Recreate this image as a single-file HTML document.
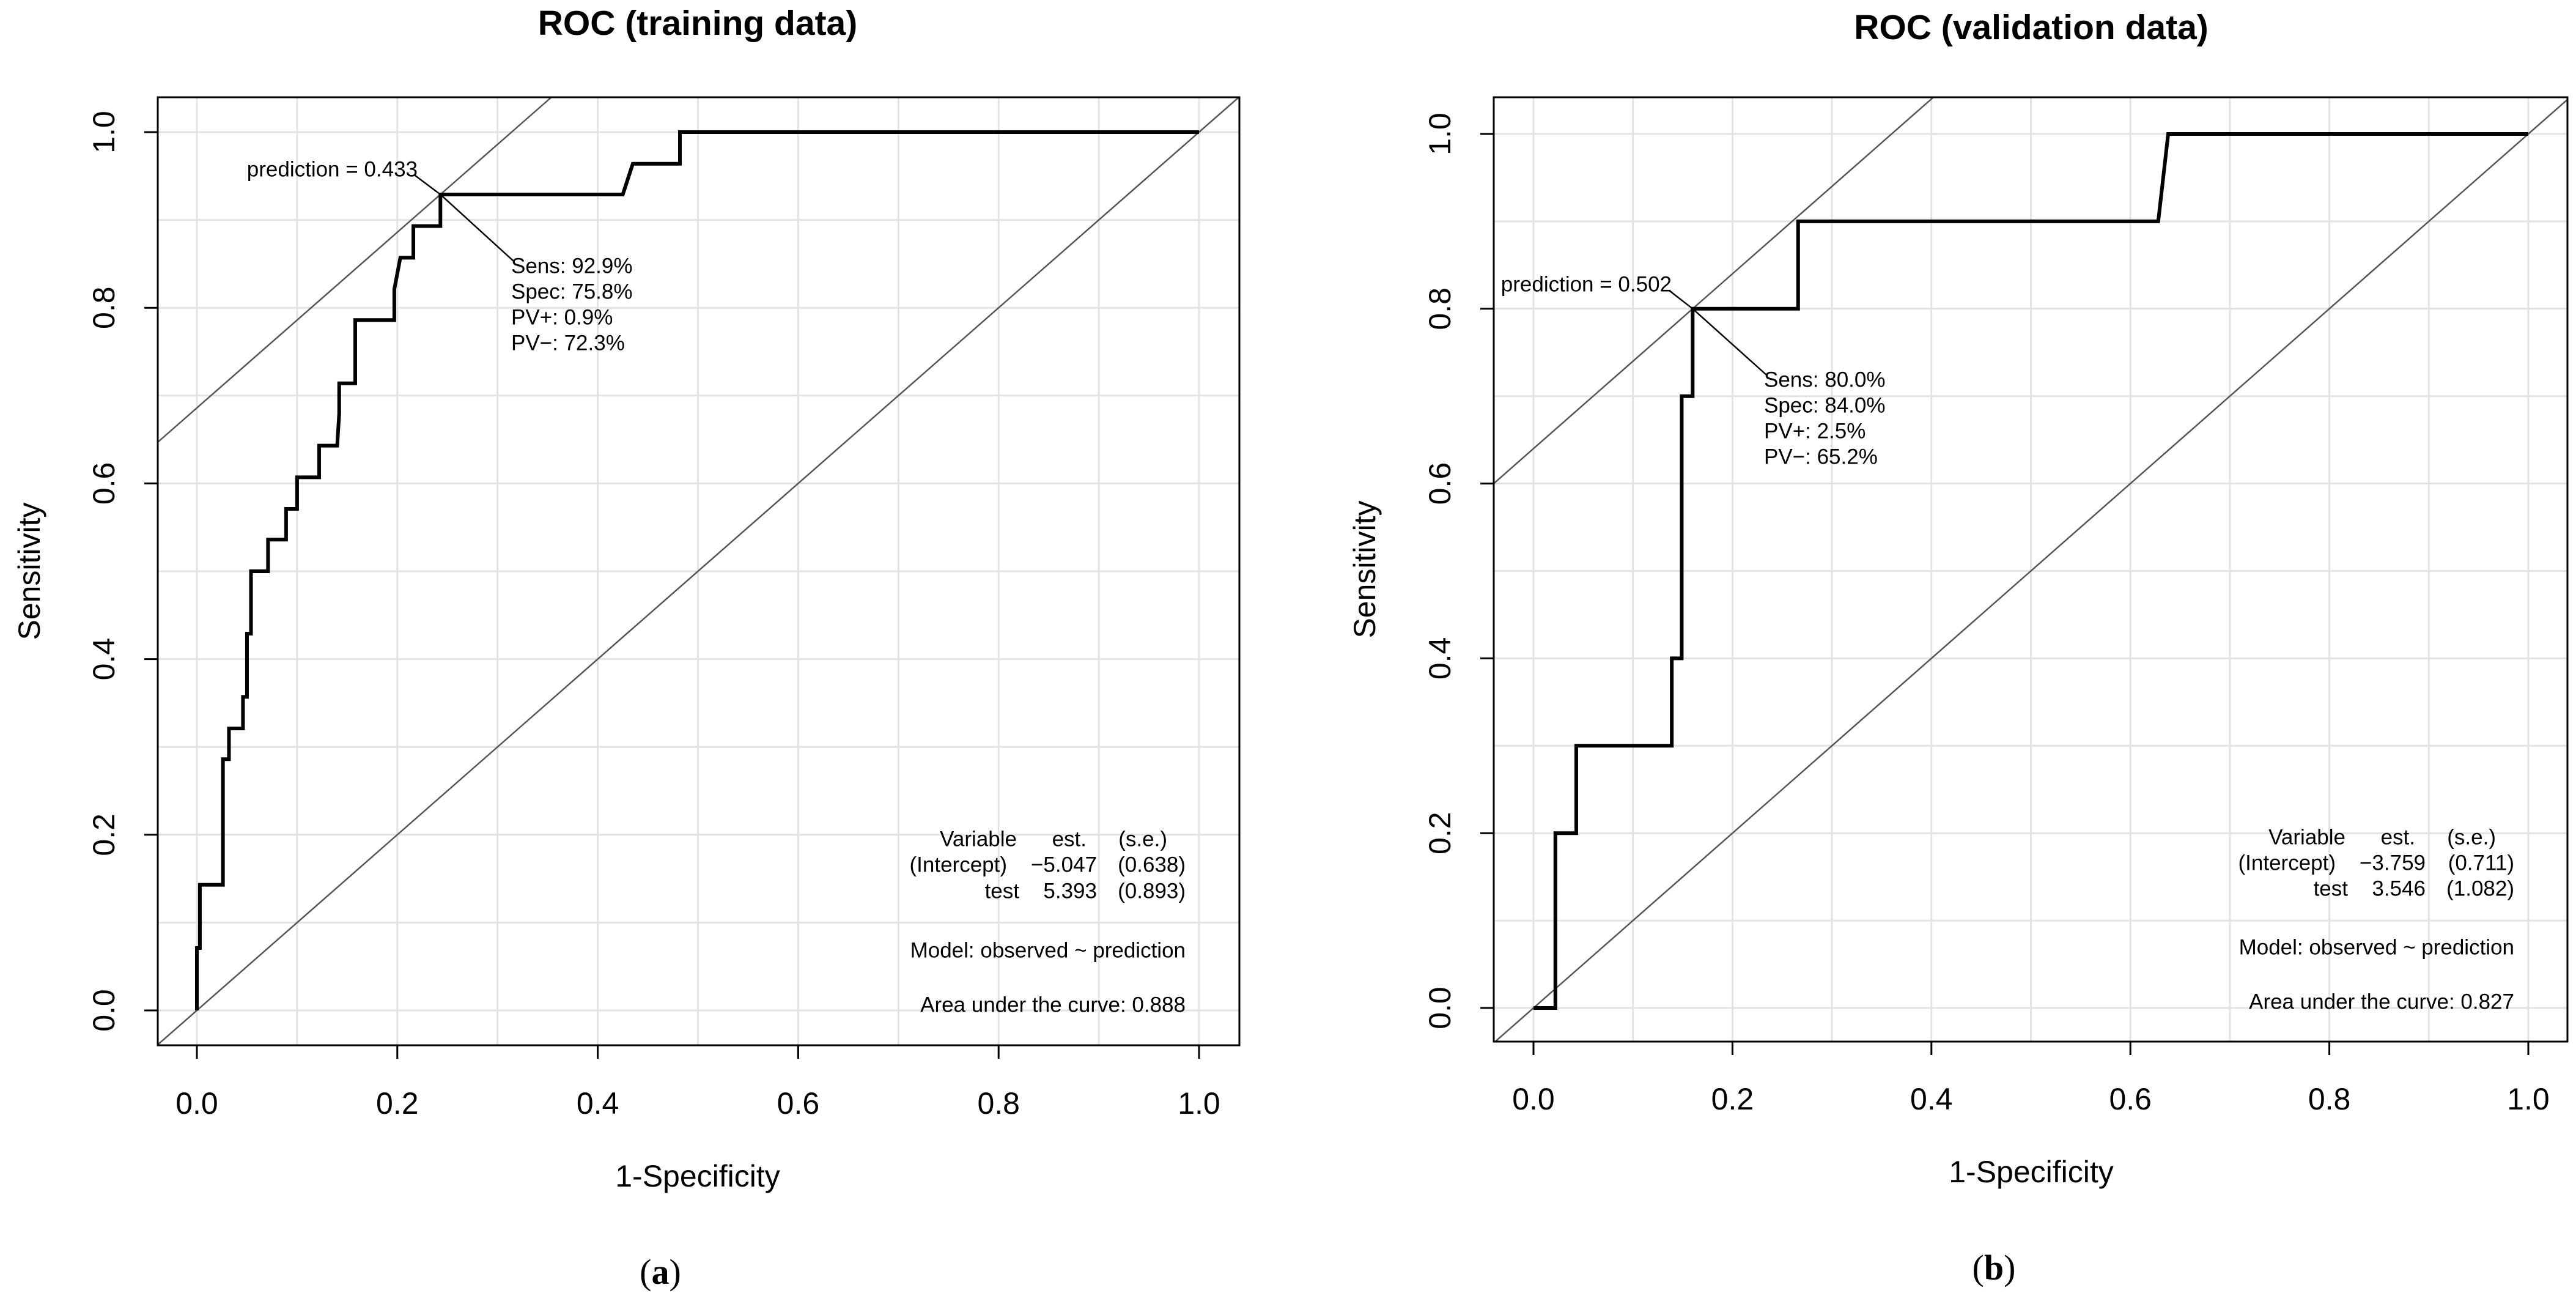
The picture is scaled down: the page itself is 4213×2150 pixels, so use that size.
<!DOCTYPE html>
<html><head><meta charset="utf-8"><style>
html,body{margin:0;padding:0;background:#fff;}
svg{display:block;font-family:"Liberation Sans",sans-serif;}
</style></head>
<body>
<svg id="chart" width="4213" height="2150" viewBox="0 0 4213 2150" xmlns="http://www.w3.org/2000/svg"></svg>
<script>
// ---- data ----
const trainFpr = [0,0,0.003,0.003,0.026,0.026,0.032,0.032,0.046,0.046,0.050,0.050,0.054,0.054,0.071,0.071,0.089,0.089,0.100,0.100,0.122,0.122,0.140,0.142,0.142,0.158,0.158,0.197,0.197,0.203,0.216,0.216,0.243,0.243,0.425,0.435,0.482,0.482,1.0];
const trainTpr = [0,0.071,0.071,0.143,0.143,0.286,0.286,0.321,0.321,0.357,0.357,0.429,0.429,0.5,0.5,0.536,0.536,0.571,0.571,0.607,0.607,0.643,0.643,0.679,0.714,0.714,0.786,0.786,0.821,0.857,0.857,0.893,0.893,0.929,0.929,0.964,0.964,1.0,1.0];
const validFpr = [0,0.022,0.022,0.043,0.043,0.139,0.139,0.149,0.149,0.160,0.160,0.266,0.266,0.628,0.638,1.0];
const validTpr = [0,0,0.2,0.2,0.3,0.3,0.4,0.4,0.7,0.7,0.8,0.8,0.9,0.9,1.0,1.0];
const ticks = [0,0.2,0.4,0.6,0.8,1.0];
const tickLabels = ["0.0","0.2","0.4","0.6","0.8","1.0"];
const trainCut = [0.243,0.929];
const validCut = [0.160,0.8];
const trainStats = ["Sens: 92.9%","Spec: 75.8%","PV+: 0.9%","PV\u2212: 72.3%"];
const validStats = ["Sens: 80.0%","Spec: 84.0%","PV+: 2.5%","PV\u2212: 65.2%"];

const NS="http://www.w3.org/2000/svg";
const svg=document.getElementById('chart');
function mk(tag,attrs,parent,text){const e=document.createElementNS(NS,tag);for(const k in attrs)e.setAttribute(k,attrs[k]);if(text!==undefined)e.textContent=text;(parent||svg).appendChild(e);return e;}

function panel(p){
  const g=mk('g',{});
  
  
  const X=v=>p.x0+v*p.xs, Y=v=>p.y0-v*p.ys;
  // grid
  for(let i=0;i<=10;i++){const v=i/10;
    const gl=mk('line',{x1:X(v),x2:X(v),y1:p.by0,y2:p.by1,stroke:'#e3e3e3','stroke-width':3},g);
    
    
    const gh=mk('line',{x1:p.bx0,x2:p.bx1,y1:Y(v),y2:Y(v),stroke:'#e3e3e3','stroke-width':3},g);
    
    
  }
  // clip
  const cid='clip'+p.name;
  const cp=mk('clipPath',{id:cid},g);mk('rect',{x:p.bx0,y:p.by0,width:p.bx1-p.bx0,height:p.by1-p.by0},cp);
  // diagonal
  const lo=-0.05,hi=1.05;
  const d=mk('line',{x1:X(lo),y1:Y(lo),x2:X(hi),y2:Y(hi),stroke:'#555','stroke-width':2.5,'clip-path':`url(#${cid})`},g);
  
  
  // tangent
  const b=p.cut[1]-p.cut[0];
  const t=mk('line',{x1:X(lo),y1:Y(lo+b),x2:X(hi),y2:Y(hi+b),stroke:'#555','stroke-width':2.5,'clip-path':`url(#${cid})`},g);
  
  
  // curve
  const pts=p.fx.map((v,i)=>X(v)+','+Y(p.ty[i])).join(' ');
  const c=mk('polyline',{points:pts,fill:'none',stroke:'#000','stroke-width':6,'stroke-linejoin':'miter'},g);
  
  
  // box
  const bx=mk('rect',{x:p.bx0,y:p.by0,width:p.bx1-p.bx0,height:p.by1-p.by0,fill:'none',stroke:'#000','stroke-width':3},g);
  
  
  // ticks
  ticks.forEach((v,i)=>{
    mk('line',{x1:X(v),x2:X(v),y1:p.by1,y2:p.by1+22,stroke:'#000','stroke-width':3},g);
    const tx=mk('text',{x:X(v),y:p.xtY,'font-size':50,'text-anchor':'middle','dominant-baseline':'central'},g,tickLabels[i]);
    
    
    mk('line',{x1:p.bx0,x2:p.bx0-22,y1:Y(v),y2:Y(v),stroke:'#000','stroke-width':3},g);
    const ty=mk('text',{x:p.ytX,y:Y(v),'font-size':50,'text-anchor':'middle','dominant-baseline':'central',transform:`rotate(-90 ${p.ytX} ${Y(v)})`},g,tickLabels[i]);
    
    
  });
  const title=mk('text',{x:p.cx,y:p.titleY,'font-size':57,'font-weight':'bold','text-anchor':'middle','dominant-baseline':'central'},g,p.title);
  
  
  const xt=mk('text',{x:p.cx,y:p.xTitleY,'font-size':50,'text-anchor':'middle','dominant-baseline':'central'},g,'1-Specificity');
  
  
  const ycy=(p.by0+p.by1)/2;
  const yt=mk('text',{x:p.yTitleX,y:ycy,'font-size':50,'text-anchor':'middle','dominant-baseline':'central',transform:`rotate(-90 ${p.yTitleX} ${ycy})`},g,'Sensitivity');
  
  
  // annotations
  const cx0=X(p.cut[0]),cy0=Y(p.cut[1]);
  mk('line',{x1:cx0,y1:cy0,x2:p.predX-4,y2:p.predY+10,stroke:'#000','stroke-width':2.5},g);
  mk('line',{x1:cx0,y1:cy0,x2:p.statX+4,y2:p.statY0-8,stroke:'#000','stroke-width':2.5},g);
  const pr=mk('text',{x:p.predX,y:p.predY,'font-size':35,'text-anchor':'end','dominant-baseline':'central'},g,p.predText);
  
  
  p.stats.forEach((s,i)=>{
    const st=mk('text',{x:p.statX,y:p.statY0+i*42,'font-size':35,'dominant-baseline':'central'},g,s);
    
    
  });
  // model table
  const tb=mk('g',{'font-size':35,'text-anchor':'end','dominant-baseline':'central'},g);
  
  
  const r=p.tabR;
  mk('text',{x:r-276,y:p.tabY[0]},tb,'Variable');
  mk('text',{x:r-162,y:p.tabY[0]},tb,'est.');
  mk('text',{x:r-30,y:p.tabY[0]},tb,'(s.e.)');
  mk('text',{x:r-292,y:p.tabY[1]},tb,'(Intercept)');
  mk('text',{x:r-145,y:p.tabY[1]},tb,p.est[0]);
  mk('text',{x:r,y:p.tabY[1]},tb,p.se[0]);
  mk('text',{x:r-272,y:p.tabY[2]},tb,'test');
  mk('text',{x:r-145,y:p.tabY[2]},tb,p.est[1]);
  mk('text',{x:r,y:p.tabY[2]},tb,p.se[1]);
  mk('text',{x:r,y:p.tabY[3]},tb,'Model:  observed ~ prediction');
  mk('text',{x:r,y:p.tabY[4]},tb,'Area under the curve: '+p.auc);
  const lab=mk('text',{x:p.labX,y:p.labY,'font-size':58,'font-family':'"Liberation Serif",serif','text-anchor':'middle','dominant-baseline':'central'},g);
  
  
  mk('tspan',{},lab,'(');mk('tspan',{'font-weight':'bold'},lab,p.letter);mk('tspan',{},lab,')');
}

panel({name:'training-panel',x0:322,xs:1639,y0:1652,ys:1436,bx0:258,bx1:2027,by0:159,by1:1709,
  xtY:1804,ytX:170,cx:1141,titleY:38,xTitleY:1923,yTitleX:48,fx:trainFpr,ty:trainTpr,cut:trainCut,
  predX:683,predY:277,predText:'prediction = 0.433',statX:836,statY0:435,stats:trainStats,
  tabR:1939,tabY:[1372,1414,1457,1554,1643],est:['\u22125.047','5.393'],se:['(0.638)','(0.893)'],auc:'0.888',
  labX:1080,labY:2079,letter:'a',title:'ROC (training data)'});
panel({name:'validation-panel',x0:2508,xs:1627,y0:1648,ys:1429,bx0:2443,bx1:4199,by0:159,by1:1703,
  xtY:1797,ytX:2355,cx:3322,titleY:45,xTitleY:1916,yTitleX:2232,fx:validFpr,ty:validTpr,cut:validCut,
  predX:2734,predY:465,predText:'prediction = 0.502',statX:2885,statY0:621,stats:validStats,
  tabR:4112,tabY:[1369,1411,1453,1549,1638],est:['\u22123.759','3.546'],se:['(0.711)','(1.082)'],auc:'0.827',
  labX:3261,labY:2072,letter:'b',title:'ROC (validation data)'});
</script>
</body></html>
